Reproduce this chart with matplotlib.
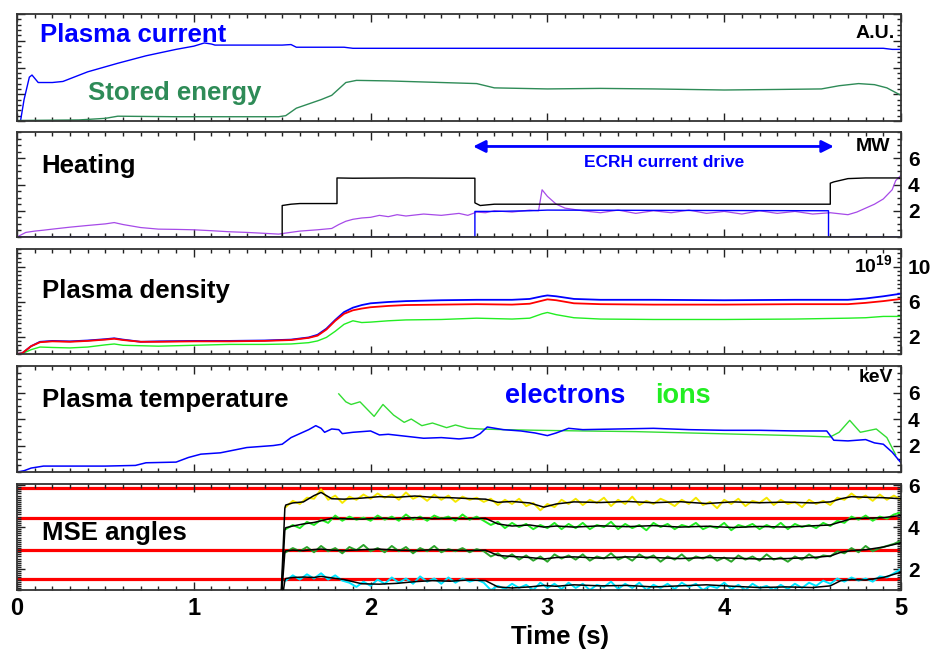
import matplotlib
matplotlib.use("Agg")
import matplotlib.pyplot as plt
from matplotlib.ticker import MultipleLocator, FixedLocator
import numpy as np

plt.rcParams['font.family'] = ['Liberation Sans', 'DejaVu Sans']
plt.rcParams['font.weight'] = 'bold'
plt.rcParams['mathtext.fontset'] = 'custom'
plt.rcParams['mathtext.rm'] = 'Liberation Sans:bold'
plt.rcParams['mathtext.bf'] = 'Liberation Sans:bold'
plt.rcParams['mathtext.default'] = 'bf'

# ---- panel 1: plasma current / stored energy (A.U.)
t_ip = [0.0, 0.02, 0.04, 0.07, 0.085, 0.12, 0.2, 0.26, 0.4, 0.57, 0.73, 0.9, 1.0,
        1.06, 1.1, 1.12, 1.5, 1.55, 1.58, 1.85, 1.9, 3.0, 4.0, 4.9, 4.95, 5.0]
ip = [0.0, 0.0, 0.2, 0.41, 0.43, 0.36, 0.36, 0.37, 0.46, 0.54, 0.61, 0.67, 0.7,
      0.73, 0.72, 0.71, 0.71, 0.715, 0.69, 0.69, 0.68, 0.68, 0.68, 0.68, 0.67, 0.67]
t_w = [0.0, 0.35, 0.5, 0.57, 0.9, 1.48, 1.52, 1.58, 1.65, 1.72, 1.78, 1.82, 1.86, 1.92,
       2.1, 2.4, 2.6, 2.7, 3.0, 3.3, 3.6, 4.0, 4.3, 4.55, 4.65, 4.76, 4.85, 4.92, 5.0]
w_stored = [0.005, 0.01, 0.025, 0.045, 0.04, 0.04, 0.05, 0.12, 0.16, 0.2, 0.24, 0.3, 0.36, 0.38,
            0.375, 0.36, 0.35, 0.31, 0.3, 0.305, 0.3, 0.29, 0.295, 0.3, 0.33, 0.35, 0.34, 0.31, 0.24]

# ---- panel 2: heating (MW)
t_tot = [0, 1.5, 1.5, 1.55, 1.6, 1.7, 1.81, 1.81, 1.9, 2.2, 2.5, 2.59, 2.59, 2.62, 2.7,
         3.0, 3.5, 4.0, 4.5, 4.6, 4.6, 4.62, 4.7, 4.8, 5.0]
p_tot = [0, 0, 2.4, 2.5, 2.55, 2.55, 2.55, 4.5, 4.48, 4.5, 4.48, 4.48, 2.6, 2.4, 2.5,
         2.5, 2.5, 2.5, 2.5, 2.5, 4.1, 4.2, 4.45, 4.5, 4.5]
t_ecrh = [0, 2.59, 2.59, 2.7, 2.9, 3.0, 4.59, 4.59, 5.0]
p_ecrh = [0, 0, 1.95, 1.95, 2.0, 2.05, 2.0, 0, 0]
t_oh = [0.0, 0.05, 0.1, 0.15, 0.2, 0.3, 0.4, 0.5, 0.55, 0.6,
        0.7, 0.8, 0.9, 1.0, 1.1, 1.2, 1.3, 1.4, 1.48, 1.52,
        1.6, 1.7, 1.78, 1.82, 1.86, 1.9, 1.95, 2.0, 2.05, 2.1,
        2.15, 2.2, 2.3, 2.4, 2.5, 2.55, 2.6, 2.65, 2.7, 2.8,
        2.9, 2.95, 2.97, 3.0, 3.05, 3.1, 3.2, 3.3, 3.4, 3.5,
        3.6, 3.7, 3.8, 3.9, 4.0, 4.1, 4.2, 4.3, 4.4, 4.5,
        4.6, 4.7, 4.75, 4.8, 4.85, 4.9, 4.95, 4.97, 5.0]
p_oh = [0.0, 0.35, 0.45, 0.52, 0.6, 0.75, 0.88, 1.0, 1.1, 0.95,
        0.72, 0.6, 0.58, 0.55, 0.48, 0.4, 0.35, 0.28, 0.22, 0.3,
        0.45, 0.55, 0.65, 0.95, 1.2, 1.35, 1.45, 1.5, 1.65, 1.55,
        1.7, 1.6, 1.75, 1.65, 1.8, 1.65, 1.9, 1.85, 2.0, 1.9,
        2.05, 2.0, 3.6, 3.1, 2.5, 2.2, 2.0, 1.85, 2.05, 1.8,
        2.0, 1.85, 2.05, 1.8, 1.95, 1.75, 2.0, 1.8, 1.95, 1.75,
        1.85, 1.7, 1.9, 2.2, 2.5, 2.9, 3.6, 4.3, 4.7]

# ---- panel 3: density (1e19 m^-3)
t_ne = [0.0, 0.03, 0.08, 0.13, 0.2, 0.3, 0.4, 0.5, 0.55, 0.6, 0.7, 0.8, 1.0, 1.2,
        1.4, 1.55, 1.65, 1.7, 1.75, 1.8, 1.85, 1.9, 1.95, 2.0, 2.1, 2.2, 2.4, 2.6,
        2.8, 2.9, 2.97, 3.0, 3.05, 3.15, 3.3, 3.6, 4.0, 4.4, 4.7, 4.8, 4.9, 5.0]
ne_blue = [0.0, 0.1, 0.9, 1.4, 1.5, 1.45, 1.55, 1.7, 1.8, 1.65, 1.4, 1.45, 1.5, 1.5,
           1.55, 1.65, 1.9, 2.2, 2.9, 3.9, 4.8, 5.3, 5.6, 5.8, 5.95, 6.05, 6.15, 6.2,
           6.2, 6.3, 6.6, 6.7, 6.6, 6.3, 6.2, 6.2, 6.15, 6.2, 6.2, 6.35, 6.6, 6.9]
ne_red = [0.0, 0.1, 0.9, 1.35, 1.45, 1.4, 1.5, 1.65, 1.75, 1.6, 1.4, 1.4, 1.45, 1.45,
          1.5, 1.6, 1.85, 2.1, 2.8, 3.8, 4.6, 5.0, 5.2, 5.35, 5.5, 5.6, 5.65, 5.7,
          5.65, 5.75, 6.1, 6.25, 6.15, 5.8, 5.7, 5.65, 5.65, 5.7, 5.7, 5.85, 6.05, 6.3]
ne_green = [0.0, 0.05, 0.5, 0.8, 0.75, 0.7, 0.8, 1.05, 1.15, 1.0, 0.95, 0.9, 1.0, 1.1,
            1.1, 1.15, 1.3, 1.5, 1.9, 2.6, 3.4, 3.8, 3.6, 3.65, 3.8, 3.9, 3.95, 4.1,
            4.0, 4.1, 4.6, 4.75, 4.5, 4.15, 4.0, 3.95, 3.95, 4.0, 4.1, 4.15, 4.3, 4.3]

# ---- panel 4: temperature (keV)
t_te = [0.0, 0.04, 0.08, 0.15, 0.3, 0.5, 0.67, 0.73, 0.9, 0.97,
        1.04, 1.15, 1.3, 1.45, 1.5, 1.55, 1.6, 1.65, 1.69, 1.72,
        1.74, 1.78, 1.82, 1.84, 1.9, 2.0, 2.05, 2.1, 2.2, 2.3,
        2.4, 2.5, 2.58, 2.62, 2.66, 2.75, 2.85, 2.93, 3.0, 3.05,
        3.12, 3.2, 3.4, 3.6, 3.8, 4.0, 4.2, 4.4, 4.58, 4.62,
        4.7, 4.8, 4.85, 4.9, 4.95, 5.0]
te = [0.0, 0.1, 0.3, 0.45, 0.45, 0.45, 0.5, 0.7, 0.75, 1.1,
      1.35, 1.45, 1.85, 2.0, 2.1, 2.6, 2.9, 3.2, 3.5, 3.3,
      3.0, 3.25, 3.2, 2.9, 3.0, 3.1, 2.8, 2.85, 2.7, 2.55,
      2.6, 2.5, 2.6, 2.9, 3.4, 3.2, 3.1, 2.95, 2.75, 2.95,
      3.3, 3.2, 3.25, 3.3, 3.2, 3.15, 3.15, 3.1, 3.1, 2.4,
      2.35, 2.45, 2.2, 2.1, 1.5, 0.7]
t_ti = [1.82, 1.86, 1.89, 1.94, 2.02, 2.07, 2.13, 2.19, 2.23, 2.29,
        2.35, 2.43, 2.48, 2.55, 2.62, 2.75, 2.95, 3.2, 3.5, 3.8,
        4.1, 4.4, 4.6, 4.65, 4.71, 4.77, 4.86, 4.92, 4.97]
ti = [5.9, 5.3, 5.1, 5.3, 4.2, 5.1, 4.3, 3.75, 4.0, 3.5,
      3.7, 3.35, 3.55, 3.3, 3.25, 3.2, 3.15, 3.1, 3.05, 2.95,
      2.85, 2.75, 2.65, 3.0, 3.9, 3.0, 3.25, 2.6, 1.3]

# ---- panel 5: MSE angles
mse_ref = [5.87, 4.42, 2.90, 1.51]
t_mse = np.linspace(1.52, 5.0, 88)
mse_ch1 = [4.95, 5.25, 5.1, 5.4, 5.35, 5.8, 5.3, 5.5, 5.15, 5.45, 5.3, 5.55,
           5.35, 5.6, 5.4, 5.55, 5.3, 5.65, 5.35, 5.5, 5.25, 5.55, 5.3, 5.5, 5.2, 5.45, 5.3, 5.4,
           5.2, 5.35, 5.05, 5.3, 5.1, 5.35, 5.0, 5.15, 4.8, 5.1, 4.95, 5.3,
           5.1, 5.35, 5.05, 5.3, 5.15, 5.4, 5.0, 5.3, 5.1, 5.45, 5.05, 5.25, 5.1, 5.35, 5.2, 5.0,
           5.3, 5.1, 5.4, 5.05, 5.2, 4.9, 5.3, 5.1, 5.35, 5.0, 5.25, 5.15, 5.4, 5.05, 5.3, 5.1,
           5.2, 4.95, 5.3, 5.1, 5.25,
           5.05, 5.4, 5.3, 5.6, 5.35, 5.5, 5.25, 5.55, 5.3, 5.5, 5.3]
mse_ch2 = [3.9, 4.1, 3.95, 4.25, 4.1, 4.35, 4.2, 4.55, 4.3, 4.5, 4.35, 4.45,
           4.3, 4.55, 4.35, 4.5, 4.3, 4.6, 4.35, 4.5, 4.3, 4.55, 4.4, 4.5, 4.3, 4.6, 4.35, 4.5,
           4.3, 4.1, 4.25, 3.95, 4.2, 4.0, 4.15, 3.9, 4.1, 3.95, 4.2, 3.9,
           4.15, 3.95, 4.2, 3.9, 4.1, 4.0, 4.25, 3.9, 4.15, 3.95, 4.1, 3.85, 4.2, 4.0, 4.15, 3.9,
           4.1, 4.0, 4.2, 3.9, 4.05, 3.95, 4.2, 3.85, 4.1, 4.0, 4.15, 3.9, 4.1, 3.95, 4.2, 3.9,
           4.15, 4.0, 4.1, 3.95, 4.2,
           4.05, 4.3, 4.2, 4.5, 4.35, 4.55, 4.3, 4.5, 4.4, 4.6, 4.7]
mse_ch3 = [2.8, 3.0, 2.85, 3.05, 2.8, 3.1, 2.85, 3.0, 2.75, 3.05, 2.9, 3.15,
           2.85, 3.0, 2.8, 3.1, 2.85, 3.05, 2.75, 3.0, 2.85, 3.1, 2.8, 2.95, 2.85, 3.0, 2.8, 2.95,
           2.85, 2.6, 2.75, 2.5, 2.7, 2.45, 2.65, 2.4, 2.6, 2.35, 2.7, 2.5,
           2.65, 2.45, 2.7, 2.4, 2.6, 2.5, 2.75, 2.45, 2.6, 2.4, 2.7, 2.5, 2.65, 2.35, 2.6, 2.45,
           2.7, 2.4, 2.6, 2.5, 2.65, 2.4, 2.55, 2.35, 2.65, 2.45, 2.6, 2.4, 2.7, 2.45, 2.55, 2.35,
           2.6, 2.45, 2.7, 2.5, 2.65,
           2.6, 2.85, 2.75, 3.0, 2.8, 3.1, 2.85, 3.0, 3.1, 3.2, 3.35]
mse_ch4 = [1.45, 1.7, 1.5, 1.75, 1.55, 1.8, 1.5, 1.7, 1.45, 1.35, 1.15, 1.4,
           1.2, 1.5, 1.3, 1.6, 1.35, 1.55, 1.3, 1.65, 1.4, 1.55, 1.3, 1.6, 1.35, 1.55, 1.4, 1.5,
           1.35, 1.0, 1.2, 1.05, 1.3, 1.1, 1.25, 1.0, 1.35, 1.1, 1.3, 1.05,
           1.35, 1.1, 1.3, 1.0, 1.25, 1.15, 1.4, 1.05, 1.3, 1.1, 1.35, 1.0, 1.25, 1.1, 1.3, 1.05,
           1.35, 1.15, 1.3, 1.0, 1.2, 1.1, 1.35, 1.05, 1.25, 1.0, 1.3, 1.1, 1.2, 1.0, 1.25, 1.05,
           1.3, 1.1, 1.35, 1.2, 1.45,
           1.3, 1.55, 1.4, 1.6, 1.45, 1.55, 1.4, 1.65, 1.6, 1.8, 2.0]
t_fit = [1.49, 1.515, 1.52, 1.56, 1.62, 1.68, 1.72, 1.78, 1.85, 1.95,
         2.05, 2.15, 2.25, 2.35, 2.45, 2.55, 2.65, 2.72, 2.8, 2.9,
         2.98, 3.05, 3.15, 3.3, 3.45, 3.6, 3.75, 3.9, 4.05, 4.2,
         4.35, 4.5, 4.6, 4.66, 4.72, 4.8, 4.9, 5.0]
fit_ch1 = [0, 4.9, 5.05, 5.15, 5.2, 5.5, 5.65, 5.35, 5.33, 5.38,
           5.45, 5.42, 5.48, 5.42, 5.4, 5.36, 5.33, 5.18, 5.22, 5.15,
           4.95, 5.1, 5.2, 5.17, 5.22, 5.16, 5.21, 5.12, 5.2, 5.16,
           5.19, 5.15, 5.2, 5.35, 5.45, 5.42, 5.4, 5.35]
fit_ch2 = [0, 3.85, 3.97, 4.05, 4.15, 4.22, 4.3, 4.42, 4.4, 4.38,
           4.42, 4.4, 4.45, 4.4, 4.42, 4.4, 4.42, 4.15, 4.05, 4.1,
           4.0, 4.05, 4.0, 4.06, 4.02, 4.07, 4.0, 4.04, 3.98, 4.03,
           4.0, 4.06, 4.1, 4.25, 4.4, 4.42, 4.45, 4.55]
fit_ch3 = [0, 2.8, 2.87, 2.9, 2.88, 2.93, 2.95, 2.9, 2.88, 2.92,
           2.95, 2.9, 2.88, 2.92, 2.9, 2.88, 2.9, 2.65, 2.6, 2.55,
           2.48, 2.55, 2.58, 2.52, 2.58, 2.55, 2.5, 2.55, 2.52, 2.48,
           2.5, 2.55, 2.62, 2.8, 2.88, 2.92, 3.05, 3.25]
fit_ch4 = [0, 1.45, 1.55, 1.6, 1.62, 1.6, 1.65, 1.58, 1.5, 1.3,
           1.28, 1.32, 1.4, 1.45, 1.42, 1.48, 1.45, 1.15, 1.1, 1.15,
           1.22, 1.18, 1.25, 1.2, 1.22, 1.15, 1.2, 1.25, 1.18, 1.12,
           1.15, 1.12, 1.2, 1.45, 1.5, 1.48, 1.6, 1.85]

time_ticks = [0, 1, 2, 3, 4, 5]

fig = plt.figure(figsize=(9.33, 6.52), dpi=100)
L, W = 0.0182, 0.9475
boxes = [(0.8144, 0.164), (0.6365, 0.161), (0.457, 0.161), (0.276, 0.1626), (0.095, 0.1626)]
axes = [fig.add_axes([L, b, W, h]) for b, h in boxes]

def style(ax, ylim, majors, minor, labels=True):
    ax.set_xlim(0, 5)
    ax.set_ylim(*ylim)
    ax.xaxis.set_major_locator(FixedLocator(time_ticks))
    ax.xaxis.set_minor_locator(MultipleLocator(0.1))
    ax.yaxis.set_major_locator(FixedLocator(majors))
    ax.yaxis.set_minor_locator(MultipleLocator(minor))
    ax.tick_params(which='both', direction='in', top=True, bottom=True, left=True,
                   right=True, labelbottom=False, labelleft=False, labelright=labels,
                   width=1, colors='#222222')
    ax.tick_params(which='major', length=6, labelsize=15, pad=5)
    ax.tick_params(which='minor', length=3)
    for s in ax.spines.values():
        s.set_linewidth(1.3)
        s.set_color('#333333')
    for lab in ax.get_yticklabels():
        lab.set_fontweight('bold')
        lab.set_color('black')

big = 18.5

# panel 1
ax = axes[0]
ax.plot(t_ip, ip, color='#0000ff', lw=1.0)
ax.plot(t_w, w_stored, color='#2e8b57', lw=1.0)
style(ax, (0, 1), [0, 0.25, 0.5, 0.75, 1.0], 0.05, labels=False)
ax.text(0.026, 0.80, 'Plasma current', color='#0000ff', fontsize=big, fontweight='bold',
        transform=ax.transAxes, va='center')
ax.text(0.080, 0.26, 'Stored energy', color='#2e8b57', fontsize=big, fontweight='bold',
        transform=ax.transAxes, va='center')
ax.text(0.993, 0.82, 'A.U.', fontsize=14, fontweight='bold', transform=ax.transAxes,
        ha='right', va='center')

# panel 2
ax = axes[1]
ax.plot(t_oh, p_oh, color='#a64ae8', lw=0.9)
ax.plot(t_tot, p_tot, color='black', lw=1.0)
ax.plot(t_ecrh, p_ecrh, color='#0000ff', lw=1.0)
style(ax, (0, 8), [2, 4, 6], 0.5)
ax.text(0.028, 0.68, 'Heating', fontsize=big, fontweight='bold', transform=ax.transAxes,
        va='center')
ax.text(0.988, 0.86, 'MW', fontsize=14, fontweight='bold', transform=ax.transAxes,
        ha='right', va='center')
ax.annotate('', xy=(2.58, 6.9), xytext=(4.62, 6.9),
            arrowprops=dict(arrowstyle='<|-|>', color='#0000ff', lw=2.0, mutation_scale=18,
                            shrinkA=0, shrinkB=0))
ax.text(3.66, 5.7, 'ECRH current drive', color='#0000ff', fontsize=12.5, fontweight='bold',
        ha='center', va='center')

# panel 3
ax = axes[2]
ax.plot(t_ne, ne_green, color='#22ee22', lw=1.0)
ax.plot(t_ne, ne_blue, color='#0000ff', lw=1.3)
ax.plot(t_ne, ne_red, color='#ff0000', lw=1.3)
style(ax, (0, 12), [2, 6, 10], 0.5)
ax.text(0.028, 0.60, 'Plasma density', fontsize=big, fontweight='bold', transform=ax.transAxes,
        va='center')
ax.text(0.99, 0.85, r'$\mathbf{10^{19}}$', fontsize=14, transform=ax.transAxes,
        ha='right', va='center')

# panel 4
ax = axes[3]
ax.plot(t_ti, ti, color='#33dd33', lw=1.0)
ax.plot(t_te, te, color='#0000ff', lw=1.1)
style(ax, (0, 8), [2, 4, 6], 0.5)
ax.text(0.028, 0.68, 'Plasma temperature', fontsize=big, fontweight='bold',
        transform=ax.transAxes, va='center')
ax.text(0.552, 0.72, 'electrons', color='#0000ff', fontsize=19.5, fontweight='bold',
        transform=ax.transAxes, va='center')
ax.text(0.722, 0.72, 'ions', color='#22ee22', fontsize=19.5, fontweight='bold',
        transform=ax.transAxes, va='center')
ax.text(0.991, 0.89, 'keV', fontsize=14, fontweight='bold', transform=ax.transAxes,
        ha='right', va='center')

# panel 5
ax = axes[4]
for y in mse_ref:
    ax.axhline(y, color='#ff0000', lw=2.3, zorder=1)
for vals, col in [(mse_ch1, '#f5e800'), (mse_ch2, '#22ee22'), (mse_ch3, '#2aa52a'),
                  (mse_ch4, '#00e5ff')]:
    ax.plot(t_mse, vals, color=col, lw=1.4, zorder=2)
for vals in [fit_ch1, fit_ch2, fit_ch3, fit_ch4]:
    ax.plot(t_fit, vals, color='black', lw=1.1, zorder=3)
style(ax, (1.0, 6.05), [2, 4, 6], 0.1)
ax.tick_params(labelbottom=True)
for lab in ax.get_xticklabels():
    lab.set_fontweight('bold')
    lab.set_fontsize(17)
    lab.set_color('black')
ax.text(0.028, 0.54, 'MSE angles', fontsize=big, fontweight='bold', transform=ax.transAxes,
        va='center')
ax.set_xlabel('Time (s)', fontsize=18.5, fontweight='bold')
ax.xaxis.set_label_coords(0.614, -0.33)

fig.savefig('out.png', dpi=100, facecolor='white')
